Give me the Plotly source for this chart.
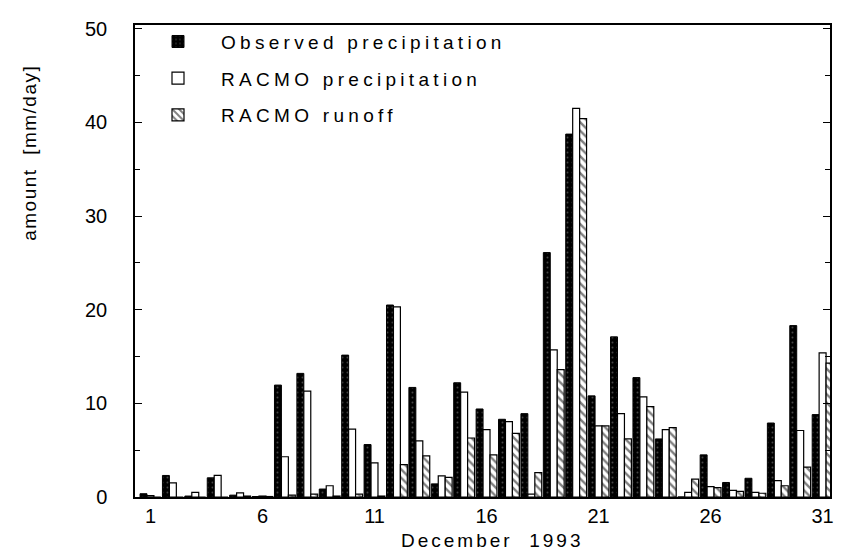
import plotly.graph_objects as go

days = list(range(1, 32))
observed = [0.35, 2.3, 0.1, 2.05, 0.2, 0.05, 11.95, 13.2, 0.85, 15.15,
            5.6, 20.5, 11.7, 1.4, 12.2, 9.4, 8.3, 8.9, 26.1, 38.75,
            10.8, 17.1, 12.75, 6.2, 0.0, 4.5, 1.55, 2.0, 7.9, 18.3, 8.8]
racmo_precip = [0.15, 1.5, 0.5, 2.3, 0.45, 0.1, 4.3, 11.3, 1.2, 7.25,
                3.65, 20.3, 6.0, 2.25, 11.2, 7.2, 8.05, 0.3, 15.7, 41.5,
                7.6, 8.9, 10.7, 7.2, 0.5, 1.1, 0.7, 0.5, 1.75, 7.1, 15.4]
racmo_runoff = [0.0, 0.0, 0.0, 0.0, 0.1, 0.05, 0.2, 0.3, 0.1, 0.3,
                0.1, 3.45, 4.4, 2.1, 6.3, 4.5, 6.8, 2.6, 13.6, 40.4,
                7.6, 6.2, 9.65, 7.4, 1.9, 1.0, 0.6, 0.4, 1.2, 3.2, 14.3]
tick_days = [1, 6, 11, 16, 21, 26, 31]
names = ["Observed precipitation", "RACMO precipitation", "RACMO runoff"]

FONT = "Liberation Sans, Arial, sans-serif"

def spaced(t, px=2.5):
    return '<span style="letter-spacing:%spx">%s</span>' % (px, t)

fig = go.Figure()
fig.add_trace(go.Bar(
    x=days, y=observed, name=spaced(names[0], 4.3), legendgroup="a",
    marker=dict(color="black", line=dict(color="black", width=1),
                pattern=dict(shape=".", bgcolor="black", fgcolor="#8a8a8a",
                             size=5, solidity=0.12, fillmode="overlay")),
))
fig.add_trace(go.Bar(
    x=days, y=racmo_precip, name=spaced(names[1], 4.3), legendgroup="b",
    marker=dict(color="white", line=dict(color="black", width=1.2)),
))
fig.add_trace(go.Bar(
    x=days, y=racmo_runoff, name=spaced(names[2], 4.3), legendgroup="c",
    marker=dict(color="white", line=dict(color="black", width=1.2),
                pattern=dict(shape="\\", bgcolor="white", fgcolor="black",
                             size=6, solidity=0.4, fillmode="overlay")),
))

fig.update_layout(
    width=846, height=556,
    margin=dict(l=135, r=13, t=25, b=59),
    paper_bgcolor="white", plot_bgcolor="white",
    barmode="group", bargap=0.07, bargroupgap=0,
    font=dict(family=FONT, color="black"),
    showlegend=True,
    legend=dict(x=0.0, y=1.005, xanchor="left", yanchor="top",
                bgcolor="rgba(0,0,0,0)", font=dict(size=19, family=FONT),
                tracegroupgap=9, itemwidth=76, traceorder="grouped"),
    xaxis=dict(range=[0.31, 31.33], tickmode="array", tickvals=tick_days,
               ticktext=[str(d) for d in tick_days], ticks="",
               showgrid=False, zeroline=False, showline=True, linecolor="black",
               linewidth=1.5, mirror=True, tickfont=dict(size=20, family=FONT)),
    yaxis=dict(range=[0, 50.4], tickmode="array", tickvals=[0, 10, 20, 30, 40, 50],
               ticks="inside", ticklen=7, tickwidth=1.2, tickcolor="black",
               minor=dict(tickvals=[5, 15, 25, 35, 45], ticks="inside", ticklen=5,
                          tickcolor="black"),
               showgrid=False, zeroline=False, showline=True, linecolor="black",
               linewidth=1.5, mirror="ticks", ticklabelstandoff=22,
               tickfont=dict(size=20, family=FONT)),
    annotations=[
        dict(text=spaced("amount  [mm/day]", 1.5), textangle=-90, xref="paper", yref="paper",
             x=-0.152, y=0.73, xanchor="center", yanchor="middle",
             showarrow=False, font=dict(size=19, family=FONT)),
        dict(text=spaced("December  1993", 3), xref="paper", yref="paper",
             x=0.514, y=-0.093, xanchor="center", yanchor="middle",
             showarrow=False, font=dict(size=19, family=FONT)),
    ],
)

fig.write_html("out.html")
